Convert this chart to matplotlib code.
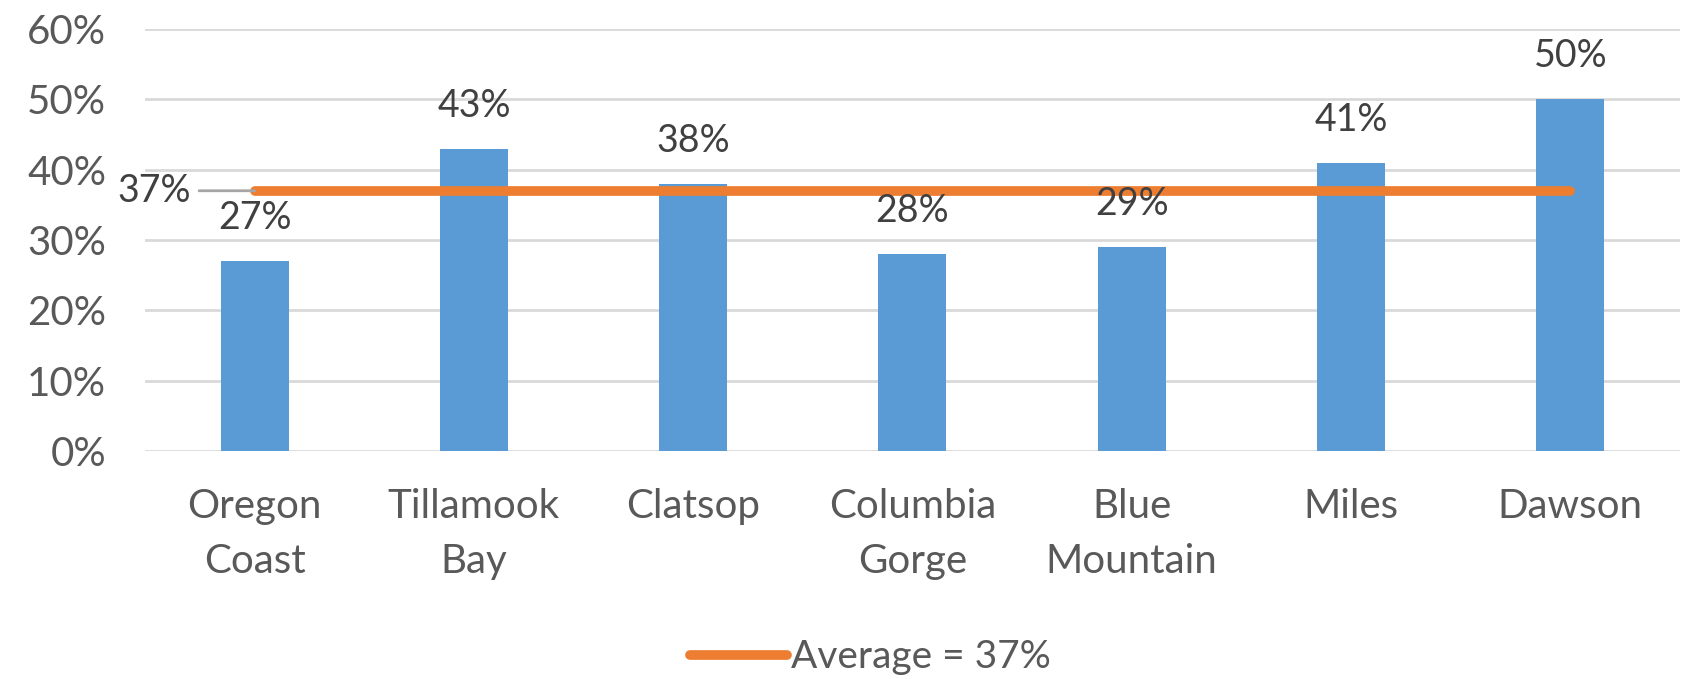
import matplotlib
matplotlib.use("Agg")
import matplotlib.pyplot as plt
from matplotlib.lines import Line2D

categories = ["Oregon\nCoast", "Tillamook\nBay", "Clatsop", "Columbia\nGorge", "Blue\nMountain", "Miles", "Dawson"]
values = [0.27, 0.43, 0.38, 0.28, 0.29, 0.41, 0.50]
average = 0.37
yticks = [0, 0.1, 0.2, 0.3, 0.4, 0.5, 0.6]

plt.rcParams['font.family'] = ['Lato', 'DejaVu Sans']

fig = plt.figure(figsize=(16.96, 6.79), dpi=100)
ax = fig.add_axes([0.0855, 0.3358, 0.905, 0.6215])

x = list(range(len(categories)))
bar_color = "#5B9BD5"
ax.bar(x, values, width=0.31, color=bar_color, zorder=2)
ax.set_xlim(-0.5, len(categories) - 0.5)
ax.set_ylim(0, 0.6)
ax.set_yticks(yticks)
ax.set_yticklabels([f"{int(round(t*100))}%" for t in yticks], fontsize=29, color="#595959")
ax.set_xticks(x)
ax.set_xticklabels(categories, fontsize=29, color="#595959", linespacing=1.6)
ax.tick_params(axis='both', length=0)
ax.tick_params(axis='x', pad=27)
ax.tick_params(axis='y', pad=28)
for s in ax.spines.values():
    s.set_visible(False)
ax.grid(axis='y', color="#D9D9D9", linewidth=2, zorder=0)
ax.set_axisbelow(True)

for xi, v in zip(x, values):
    ax.annotate(f"{int(round(v*100))}%", (xi, v), xytext=(0, 18), textcoords="offset points",
                ha="center", va="bottom", fontsize=27, color="#404040", zorder=4)

avg = [average] * len(categories)
ax.plot(x, avg, color="#ED7D31", linewidth=7, solid_capstyle="round", zorder=3)
# leader line and label for average
ax.annotate(f"{int(round(average*100))}%", xy=(x[0], average), xytext=(-46, 0),
            textcoords="offset points", ha="right", va="center", fontsize=27, color="#404040",
            arrowprops=dict(arrowstyle="-", color="#A6A6A6", lw=2, shrinkA=4, shrinkB=0), zorder=4)

handle = Line2D([0], [0], color="#ED7D31", linewidth=7, solid_capstyle="round")
leg = fig.legend([handle], [f"Average = {int(round(average*100))}%"], loc="center",
                 bbox_to_anchor=(0.513, 0.032), frameon=False, fontsize=28, handlelength=2.5,
                 handletextpad=0.1, labelcolor="#595959")

fig.savefig("out.png", dpi=100)
